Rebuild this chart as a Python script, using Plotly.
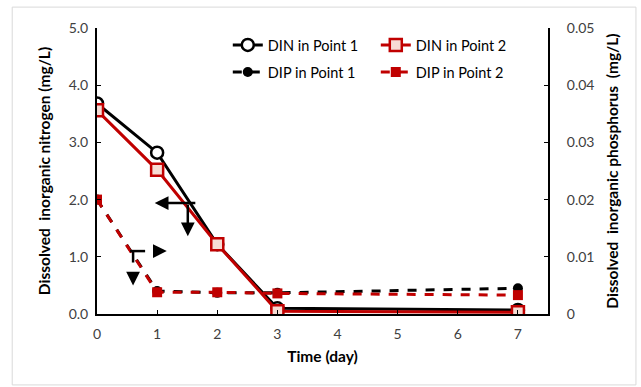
import plotly.graph_objects as go

days = [0, 1, 2, 3, 7]
din_p1 = [3.68, 2.82, 1.22, 0.10, 0.07]
din_p2 = [3.56, 2.52, 1.22, 0.05, 0.03]
dip_p1 = [0.0200, 0.0040, 0.0037, 0.0037, 0.0045]
dip_p2 = [0.0200, 0.0038, 0.0038, 0.0036, 0.0033]

left_ticks = [0, 1, 2, 3, 4, 5]
left_labels = ["0.0", "1.0", "2.0", "3.0", "4.0", "5.0"]
right_ticks = [0, 0.01, 0.02, 0.03, 0.04, 0.05]
right_labels = ["0", "0.01", "0.02", "0.03", "0.04", "0.05"]
x_ticks = [0, 1, 2, 3, 4, 5, 6, 7]

RED = "#C00000"
BLACK = "#000000"
FONT = "Lato"
TICKFONT = dict(family=FONT, size=14, color="#404040")
TITLEFONT = dict(family=FONT, size=15.5, color="#000000")

fig = go.Figure()
fig.add_trace(go.Scatter(x=days, y=din_p1, name="DIN in Point 1", mode="lines+markers",
                         legend="legend",
                         line=dict(color=BLACK, width=3),
                         marker=dict(symbol="circle", size=12, color="white",
                                     line=dict(color=BLACK, width=2.5))))
fig.add_trace(go.Scatter(x=days, y=din_p2, name="DIN in Point 2", mode="lines+markers",
                         legend="legend",
                         line=dict(color=RED, width=3),
                         marker=dict(symbol="square", size=12, color="#f7dcd4",
                                     line=dict(color=RED, width=2.5))))
fig.add_trace(go.Scatter(x=days, y=dip_p1, name="DIP in Point 1", mode="lines+markers",
                         yaxis="y2", legend="legend2",
                         line=dict(color=BLACK, width=3, dash="dash"),
                         marker=dict(symbol="circle", size=10, color=BLACK)))
fig.add_trace(go.Scatter(x=days, y=dip_p2, name="DIP in Point 2", mode="lines+markers",
                         yaxis="y2", legend="legend2",
                         line=dict(color=RED, width=3, dash="dash"),
                         marker=dict(symbol="square", size=10, color=RED)))

# Solid arrow (DIN -> left axis)
fig.add_annotation(x=0.96, y=1.94, ax=1.66, ay=1.94, xref="x", yref="y", axref="x", ayref="y",
                   text="", showarrow=True, arrowhead=2, arrowsize=1.1, arrowwidth=2.5, arrowcolor=BLACK)
fig.add_annotation(x=1.51, y=1.36, ax=1.51, ay=1.94, xref="x", yref="y", axref="x", ayref="y",
                   text="", showarrow=True, arrowhead=2, arrowsize=1.1, arrowwidth=2.5, arrowcolor=BLACK)

# Dashed arrow (DIP -> right axis)
fig.add_shape(type="line", x0=0.55, y0=1.10, x1=0.80, y1=1.10, xref="x", yref="y",
              line=dict(color=BLACK, width=2.5))
fig.add_shape(type="line", x0=0.60, y0=1.10, x1=0.60, y1=0.90, xref="x", yref="y",
              line=dict(color=BLACK, width=2.5))
fig.add_annotation(x=1.16, y=1.10, ax=0.99, ay=1.10, xref="x", yref="y", axref="x", ayref="y",
                   text="", showarrow=True, arrowhead=2, arrowsize=1.1, arrowwidth=2.5, arrowcolor=BLACK)
fig.add_annotation(x=0.60, y=0.50, ax=0.60, ay=0.74, xref="x", yref="y", axref="x", ayref="y",
                   text="", showarrow=True, arrowhead=2, arrowsize=1.1, arrowwidth=2.5, arrowcolor=BLACK)

# chart-area border
fig.add_shape(type="rect", xref="paper", yref="paper", x0=-0.188, x1=1.195, y0=-0.248, y1=1.073,
              line=dict(color="#d9d9d9", width=1), layer="below")

legend_common = dict(orientation="h", x=0.29, xanchor="left", yanchor="middle",
                     entrywidth=103, entrywidthmode="pixels", bgcolor="rgba(0,0,0,0)",
                     font=dict(family=FONT, size=14.5, color="#000000"))

fig.update_layout(
    width=641, height=387,
    margin=dict(l=97, r=93, t=28, b=73),
    paper_bgcolor="white", plot_bgcolor="white",
    font=dict(family=FONT, size=12, color="#000000"),
    showlegend=True,
    legend=dict(y=(314 - 45) / 286, **legend_common),
    legend2=dict(y=(314 - 72) / 286, **legend_common),
    xaxis=dict(range=[0, 7.5], tickvals=x_ticks, showgrid=False, zeroline=False,
               showline=True, linecolor=BLACK, linewidth=2, ticks="inside", ticklen=4,
               tickcolor=BLACK, tickfont=TICKFONT, ticklabelstandoff=6,
               title=dict(text="<b>Time (day)</b>", font=TITLEFONT, standoff=10)),
    yaxis=dict(range=[0, 5], tickvals=left_ticks, ticktext=left_labels, showgrid=False,
               zeroline=False, showline=True, linecolor=BLACK, linewidth=2, ticks="inside",
               ticklen=4, tickcolor=BLACK, tickfont=TICKFONT, ticklabelstandoff=4,
               title=dict(text="<b>Dissolved  inorganic nitrogen (mg/L)</b>",
                          font=TITLEFONT, standoff=14)),
    yaxis2=dict(range=[0, 0.05], tickvals=right_ticks, ticktext=right_labels, overlaying="y",
                side="right", anchor="x", showgrid=False, zeroline=False, showline=True,
                linecolor=BLACK, linewidth=2, ticks="inside", ticklen=4, tickcolor=BLACK,
                tickfont=TICKFONT, ticklabelstandoff=14,
                title=dict(text="<b>Dissolved  inorganic phosphorus  (mg/L)</b>",
                           font=TITLEFONT, standoff=14)),
)

fig.write_html("out.html")
